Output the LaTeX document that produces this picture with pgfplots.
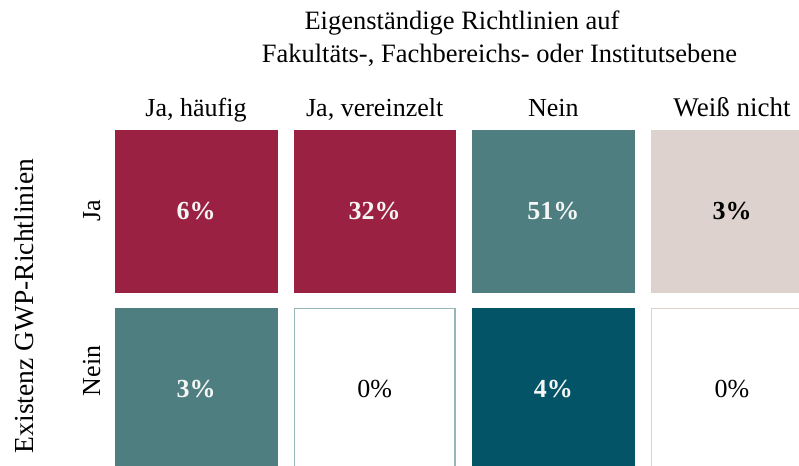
\documentclass[border=0pt]{standalone}
\usepackage{fontspec}
\setmainfont{Liberation Serif}
\usepackage{pgfplots}
\pgfplotsset{compat=1.18}
\definecolor{mag}{RGB}{155,33,66}
\definecolor{tealc}{RGB}{78,126,128}
\definecolor{dteal}{RGB}{2,84,102}
\definecolor{beige}{RGB}{221,210,206}
\definecolor{tealbord}{RGB}{150,182,184}
\definecolor{offwhite}{RGB}{245,245,245}
\begin{document}
\fontsize{26bp}{31bp}\selectfont
\begin{tikzpicture}
\begin{axis}[
  at={(0,0)}, anchor=south west,
  scale only axis, width=799bp, height=466bp,
  xmin=-1.0970, xmax=3.3749,
  ymin=-1.1854, ymax=1.4326, y dir=reverse,
  hide axis, clip=false,
  point meta=explicit,
  /pgf/number format/assume math mode=true,
  every node near coord/.append style={anchor=center, font=\fontsize{26bp}{31bp}\selectfont\bfseries},
  nodes near coords={\pgfmathprintnumber{\pgfplotspointmeta}\%},
]
% magenta cells
\addplot[mag, only marks, mark=square*, mark size=80.8bp,
  mark options={fill=mag, draw=mag, line width=0.4bp},
  every node near coord/.append style={text=offwhite}]
  table[meta=v] {
x y v
0 0 6
1 0 32
};
% teal cells
\addplot[tealc, only marks, mark=square*, mark size=80.8bp,
  mark options={fill=tealc, draw=tealc, line width=0.4bp},
  every node near coord/.append style={text=offwhite}]
  table[meta=v] {
x y v
2 0 51
0 1 3
};
% beige cell
\addplot[beige, only marks, mark=square*, mark size=80.8bp,
  mark options={fill=beige, draw=beige, line width=0.4bp},
  every node near coord/.append style={text=black}]
  table[meta=v] {
x y v
3 0 3
};
% dark teal cell
\addplot[dteal, only marks, mark=square*, mark size=80.8bp,
  mark options={fill=dteal, draw=dteal, line width=0.4bp},
  every node near coord/.append style={text=offwhite}]
  table[meta=v] {
x y v
2 1 4
};
% empty cells
\addplot[tealbord, only marks, mark=square*, mark size=80.3bp,
  mark options={fill=white, draw=tealbord, line width=1.4bp},
  every node near coord/.append style={text=black, font=\fontsize{26bp}{31bp}\selectfont\mdseries}]
  table[meta=v] {
x y v
1 1 0
};
\addplot[beige, only marks, mark=square*, mark size=80.3bp,
  mark options={fill=white, draw=beige, line width=1.4bp},
  every node near coord/.append style={text=black, font=\fontsize{26bp}{31bp}\selectfont\mdseries}]
  table[meta=v] {
x y v
3 1 0
};
\end{axis}
% titles and labels (picture coordinates in px from bottom-left)
\node[anchor=base] at (462bp,436bp) {\fontsize{26.5bp}{31bp}\selectfont Eigenständige Richtlinien auf};
\node[anchor=base] at (499.5bp,403.5bp) {\fontsize{26.5bp}{31bp}\selectfont Fakultäts-, Fachbereichs- oder Institutsebene};
\node[anchor=base] at (196bp,349.3bp) {Ja, häufig};
\node[anchor=base] at (374.7bp,349.3bp) {Ja, vereinzelt};
\node[anchor=base] at (553.3bp,349.3bp) {Nein};
\node[anchor=base] at (732bp,349.3bp) {\fontsize{27bp}{31bp}\selectfont Weiß nicht};
\node[anchor=base, rotate=90] at (100bp,255bp) {Ja};
\node[anchor=base, rotate=90] at (100bp,95bp) {Nein};
\node[anchor=base, rotate=90] at (33bp,160bp) {\fontsize{27.5bp}{31bp}\selectfont Existenz GWP-Richtlinien};
\pgfresetboundingbox
\path (0,0) rectangle (799bp,466bp);
\end{tikzpicture}
\end{document}
